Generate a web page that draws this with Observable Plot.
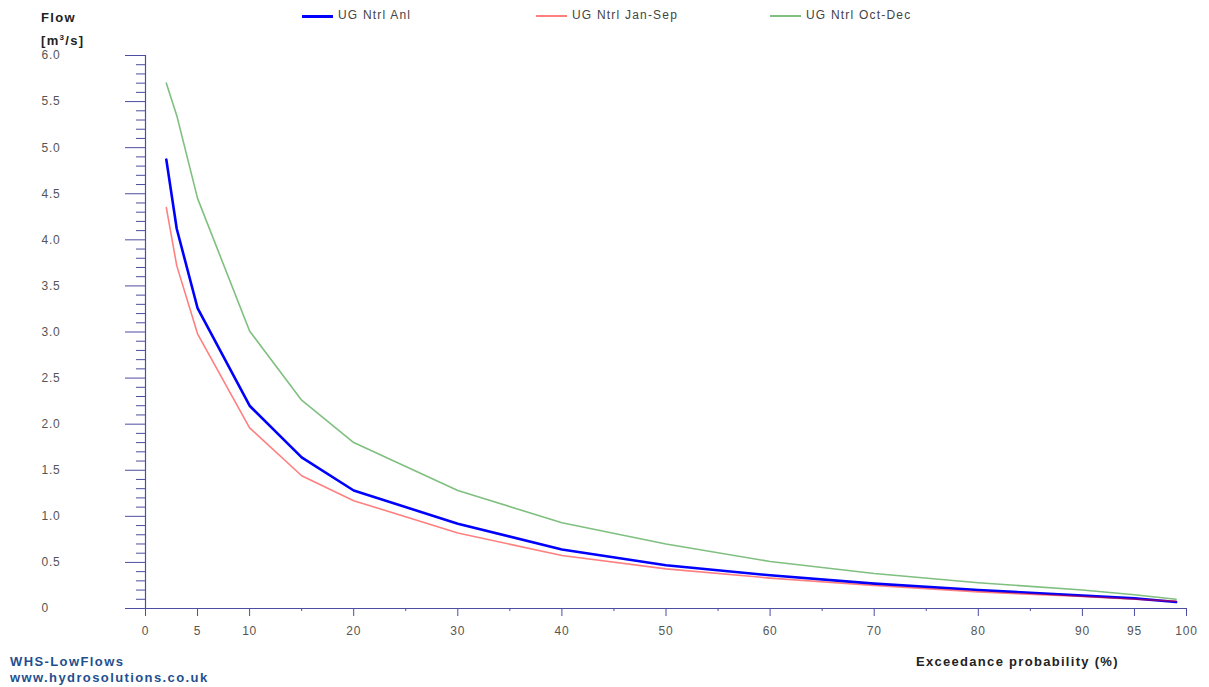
<!DOCTYPE html>
<html>
<head>
<meta charset="utf-8">
<script src="https://cdn.jsdelivr.net/npm/d3@7"></script>
<script src="https://cdn.jsdelivr.net/npm/@observablehq/plot@0.6"></script>
<style>
  html, body { margin: 0; padding: 0; background: #fff; }
  #wrap { position: relative; width: 1209px; height: 687px; font-family: "Liberation Sans", Arial, sans-serif; }
  #wrap svg { position: absolute; left: 0; top: 0; }
  .t { position: absolute; white-space: nowrap; line-height: 1; }
  .b { font-weight: bold; color: #222; font-size: 13px; letter-spacing: 1.3px; }
  .leg { font-size: 12px; color: #444; letter-spacing: 1.2px; }
  .sw { position: absolute; height: 0; }
  .foot { font-weight: bold; font-size: 13px; color: #1f4f8f; letter-spacing: 1.4px; }
</style>
</head>
<body>
<div id="wrap"></div>
<script>
// Exceedance probability (%)
const probs  = [2, 3, 5, 10, 15, 20, 30, 40, 50, 60, 70, 80, 90, 95, 99];
// Flow (m3/s)
const anl    = [4.87, 4.12, 3.26, 2.20, 1.64, 1.28, 0.92, 0.64, 0.47, 0.36, 0.27, 0.20, 0.14, 0.11, 0.07];
const janSep = [4.35, 3.72, 2.98, 1.96, 1.44, 1.17, 0.82, 0.575, 0.43, 0.33, 0.25, 0.18, 0.13, 0.10, 0.08];
const octDec = [5.70, 5.35, 4.45, 3.01, 2.26, 1.80, 1.28, 0.93, 0.70, 0.51, 0.38, 0.28, 0.20, 0.15, 0.10];

const seriesNames = ["UG Ntrl Anl", "UG Ntrl Jan-Sep", "UG Ntrl Oct-Dec"];
const xMajor = [0, 5, 10, 20, 30, 40, 50, 60, 70, 80, 90, 95, 100];
const xMinor = [15, 25, 35, 45, 55, 65, 75, 85];
const yMajor = [0, 0.5, 1, 1.5, 2, 2.5, 3, 3.5, 4, 4.5, 5, 5.5, 6];
const yMinor = d3.range(0, 61).map(i => i / 10).filter(v => Math.abs(v * 2 - Math.round(v * 2)) > 1e-9);

const mk = (vals) => probs.map((p, i) => ({p, v: vals[i]}));
const dAnl = mk(anl), dJan = mk(janSep), dOct = mk(octDec);

const axisColor = "#4d4da3";

const chart = Plot.plot({
  width: 1209,
  height: 687,
  marginLeft: 145,
  marginRight: 23,
  marginTop: 55,
  marginBottom: 79,
  style: {fontFamily: "'Liberation Sans', Arial, sans-serif", fontSize: "12px", letterSpacing: "0.8px", background: "white"},
  x: {domain: [0, 100]},
  y: {domain: [0, 6]},
  marks: [
    // axis lines
    Plot.ruleX([0], {stroke: axisColor, strokeWidth: 1.2}),
    Plot.ruleY([0], {x1: -1.92, x2: 100, stroke: axisColor, strokeWidth: 1.2, clip: false}),
    // y ticks
    Plot.axisY(yMinor, {tickSize: 9, stroke: axisColor, text: null, label: null}),
    Plot.axisY(yMajor, {tickSize: 20, stroke: axisColor, text: null, label: null}),
    // y tick labels (left aligned)
    Plot.text(yMajor, {y: d => d, frameAnchor: "left", dx: -104, textAnchor: "start", fill: "#555",
      text: d => d === 0 ? "0" : d.toFixed(1)}),
    // x ticks
    Plot.axisX(xMinor, {tickSize: 3, stroke: axisColor, text: null, label: null}),
    Plot.axisX(xMajor, {tickSize: 8, tickPadding: 10, stroke: axisColor, fill: "#555", label: null, tickFormat: d => String(d)}),
    // series
    Plot.line(dOct, {x: "p", y: "v", stroke: "#008000", strokeOpacity: 0.5, strokeWidth: 1.6}),
    Plot.line(dAnl, {x: "p", y: "v", stroke: "#0000ff", strokeWidth: 2.6}),
    Plot.line(dJan, {x: "p", y: "v", stroke: "#ff0000", strokeOpacity: 0.5, strokeWidth: 1.6})
  ]
});

const wrap = document.getElementById("wrap");
wrap.appendChild(chart);

function addText(html, cls, left, top) {
  const d = document.createElement("div");
  d.className = "t " + cls;
  d.innerHTML = html;
  d.style.left = left + "px";
  d.style.top = top + "px";
  wrap.appendChild(d);
  return d;
}
function addSwatch(color, opacity, width, left, top, len) {
  const s = document.createElement("div");
  s.className = "sw";
  s.style.left = left + "px";
  s.style.top = top + "px";
  s.style.width = len + "px";
  s.style.borderTop = width + "px solid " + color;
  s.style.opacity = opacity;
  wrap.appendChild(s);
}

// axis titles
addText("Flow", "b", 41, 11);
addText("[m<sup style='font-size:8px'>3</sup>/s]", "b", 41, 34);
addText("Exceedance probability (%)", "b", 916, 655);

// legend
const legColors = [["#0000ff", 1, 3], ["#ff0000", 0.5, 2], ["#008000", 0.5, 2]];
const legX = [302, 536, 770];
seriesNames.forEach((n, i) => {
  addSwatch(legColors[i][0], legColors[i][1], legColors[i][2], legX[i], 15, 31);
  addText(n, "leg", legX[i] + 36, 9);
});

// footer
addText("WHS-LowFlows", "foot", 10, 655);
addText("www.hydrosolutions.co.uk", "foot", 10, 671);
</script>
</body>
</html>
